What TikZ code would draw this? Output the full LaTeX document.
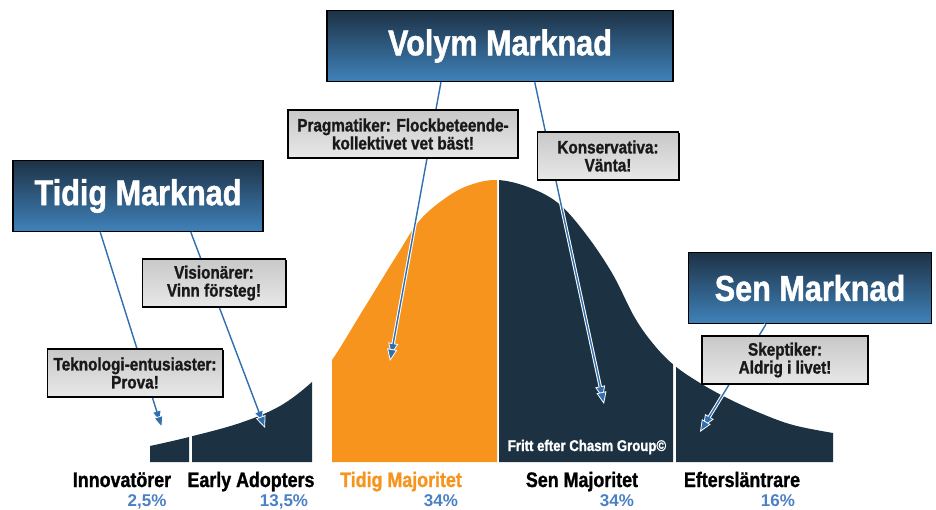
\documentclass[tikz,border=0pt]{standalone}
\usepackage{fontspec}
\setmainfont{Liberation Sans}[FakeStretch=0.85, BoldFeatures={FakeBold=1.2}]
\newfontfamily\pctfont{Liberation Sans}
\usetikzlibrary{arrows.meta,calc,shadows}
\definecolor{curvenavy}{HTML}{1C3142}
\definecolor{curveorange}{HTML}{F7941E}
\definecolor{titletop}{HTML}{1D3246}
\definecolor{titlebot}{HTML}{4082BA}
\definecolor{notetop}{HTML}{C8C8C8}
\definecolor{notebot}{HTML}{E8E8E8}
\definecolor{pctblue}{HTML}{4A80C5}
\definecolor{arrowblue}{HTML}{2F6FAF}

\begin{document}
\begin{tikzpicture}[
  x=1pt, y=-1pt,
  market/.style={draw=black, line width=1.5pt, top color=titletop, bottom color=titlebot, text=white, font=\fontsize{36}{40}\selectfont\bfseries, minimum height=71pt, inner sep=0pt},
  note/.style={draw=black, line width=1.5pt, top color=notetop, bottom color=notebot, text=black!90, font=\fontsize{18}{18}\selectfont\bfseries, align=center, minimum height=48pt, inner sep=0pt, drop shadow={shadow xshift=1.2pt, shadow yshift=-1.2pt, opacity=1, fill=black}},
  seg/.style={font=\fontsize{21}{24}\selectfont\bfseries, anchor=base},
  pct/.style={font=\pctfont\fontsize{17}{20}\selectfont\bfseries, text=pctblue, anchor=base},
  pointer/.style={draw=arrowblue, line width=1.4pt, -{Triangle[length=12pt, width=10pt, color=white, fill=arrowblue, line width=0.8pt]}, preaction={draw=white, line width=3.4pt, shorten >=6pt}}
]
\useasboundingbox (0,0) rectangle (936,509);

% bell curve, cut into the five groups
\foreach \xa/\xb/\col in {150/189/curvenavy, 192/312/curvenavy, 332/497/curveorange, 499/673/curvenavy, 676/833/curvenavy}{
  \begin{scope}
    \clip (\xa,0) rectangle (\xb,462);
    \fill[\col] (150,462) -- plot[smooth, tension=0.6] coordinates {(150,446) (189,437) (240,423) (280,406) (312,382) (332,360) (363,310) (397,255) (420,220) (447,197) (470,185) (497,180) (528,187) (558,203) (585,233) (612,273) (635,318) (655,346) (675,366) (700,383) (727,398) (760,413) (793,425) (833,433)} -- (833,462) -- cycle;
  \end{scope}
}

\node[text=white, font=\fontsize{15.5}{18}\selectfont\bfseries, anchor=base] (credit) at (587,451) {Fritt efter Chasm Group©};

% group labels
\node[seg] (innov) at (122,487) {Innovatörer};
\node[seg] (early) at (251,487) {Early Adopters};
\node[seg, text=curveorange] (tidmaj) at (401,487) {Tidig Majoritet};
\node[seg] (senmaj) at (582,487) {Sen Majoritet};
\node[seg] (efter) at (742,487) {Eftersläntrare};
\node[pct] (pinnov) at (147,506) {2,5\%};
\node[pct] (pearly) at (284,506) {13,5\%};
\node[pct] (ptidmaj) at (441,506) {34\%};
\node[pct] (psenmaj) at (617,506) {34\%};
\node[pct] (pefter) at (778,506) {16\%};

% markets
\node[market, minimum width=346pt] (volym) at (500,46) {Volym Marknad};
\node[market, minimum width=250pt] (tidig) at (138,196) {Tidig Marknad};
\node[market, minimum width=243pt] (sen) at (810,288) {Sen Marknad};

\coordinate (tipInnov) at (162,428);
\coordinate (tipEarly) at (265,428);
\coordinate (tipPrag) at (390,361);
\coordinate (tipKons) at (604,404);
\coordinate (tipSkep) at (700,432);

\draw[pointer] ($(tidig.south west)!0.35!(tidig.south east)$) -- (tipInnov);
\draw[pointer] ($(tidig.south west)!0.71!(tidig.south east)$) -- (tipEarly);
\draw[pointer] ($(volym.south west)!0.33!(volym.south east)$) -- (tipPrag);
\draw[pointer] ($(volym.south west)!0.60!(volym.south east)$) -- (tipKons);
\draw[pointer] ($(sen.south west)!0.32!(sen.south east)$) -- (tipSkep);

% buyer types
\node[note, minimum width=230pt] (prag) at (403,134) {Pragmatiker: Flockbeteende-\\kollektivet vet bäst!};
\node[note, minimum width=141pt] (kons) at (608,156) {Konservativa:\\Vänta!};
\node[note, minimum width=143pt] (vision) at (214,283) {Visionärer:\\Vinn försteg!};
\node[note, minimum width=175pt] (tekno) at (135,373) {Teknologi-entusiaster:\\Prova!};
\node[note, minimum width=166pt] (skep) at (785,360) {Skeptiker:\\Aldrig i livet!};
\end{tikzpicture}
\end{document}
